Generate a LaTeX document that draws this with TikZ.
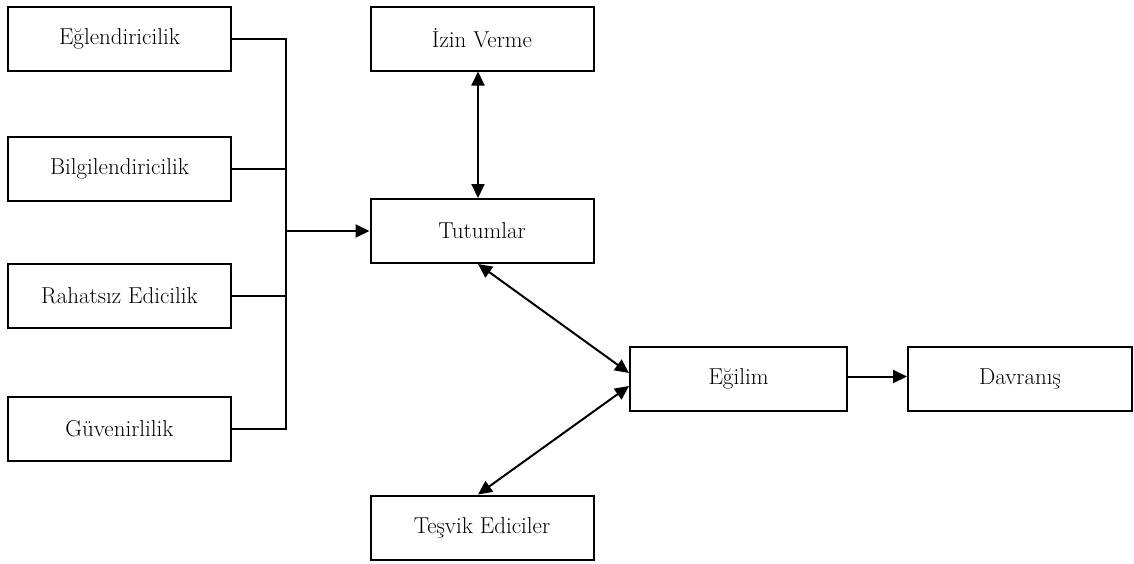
\documentclass[tikz,border=0pt]{standalone}
\usepackage{tikz}
\usetikzlibrary{arrows.meta,positioning,calc}

\begin{document}
\begin{tikzpicture}[x=1pt,y=-1pt,
  box/.style={draw,line width=2pt,minimum width=223pt,minimum height=64pt,
    inner sep=0pt,font=\fontsize{23}{27}\selectfont},
  link/.style={line width=2pt},
  tip/.style={line width=2pt,-{Triangle[length=14pt,width=13pt]}},
  twotip/.style={line width=2pt,{Triangle[length=14pt,width=13pt]}-{Triangle[length=14pt,width=13pt]}}]
  \useasboundingbox (0,0) rectangle (1134,563);

  % Factor boxes (left column)
  \node[box] (eglence)  at (119.5,38.5)  {Eğlendiricilik};
  \node[box] (bilgi)    at (119.5,169)   {Bilgilendiricilik};
  \node[box] (rahatsiz) at (119.5,295.5) {Rahatsız Edicilik};
  \node[box] (guven)    at (119.5,429)   {Güvenirlilik};

  % Middle and right boxes
  \node[box] (izin)     at (482,38.5)  {İzin Verme};
  \node[box] (tutum)    at (482,231)   {Tutumlar};
  \node[box] (tesvik)   at (482,527.5) {Teşvik Ediciler};
  \node[box,minimum width=217pt] (egilim)   at (738.5,378.5) {Eğilim};
  \node[box,minimum width=224pt] (davranis) at (1020,378.5) {Davranış};

  % Collecting line
  \coordinate (bus) at (286,0);
  \draw[link] (eglence.east) -| (guven.east -| bus) -- (guven.east);
  \draw[link] (bilgi.east) -- (bilgi.east -| bus);
  \draw[link] (rahatsiz.east) -- (rahatsiz.east -| bus);
  \draw[tip] (tutum.west -| bus) -- (tutum.west);

  % Relations
  \draw[twotip] ([xshift=-4pt]izin.south) -- ([xshift=-4pt]tutum.north);
  \draw[twotip] ([xshift=-4pt]tutum.south) -- ([yshift=5.5pt]egilim.west);
  \draw[twotip] ([xshift=-4pt]tesvik.north) -- ([yshift=-7.5pt]egilim.west);
  \draw[tip] ([yshift=2pt]egilim.east) -- ([yshift=2pt]davranis.west);
\end{tikzpicture}
\end{document}
